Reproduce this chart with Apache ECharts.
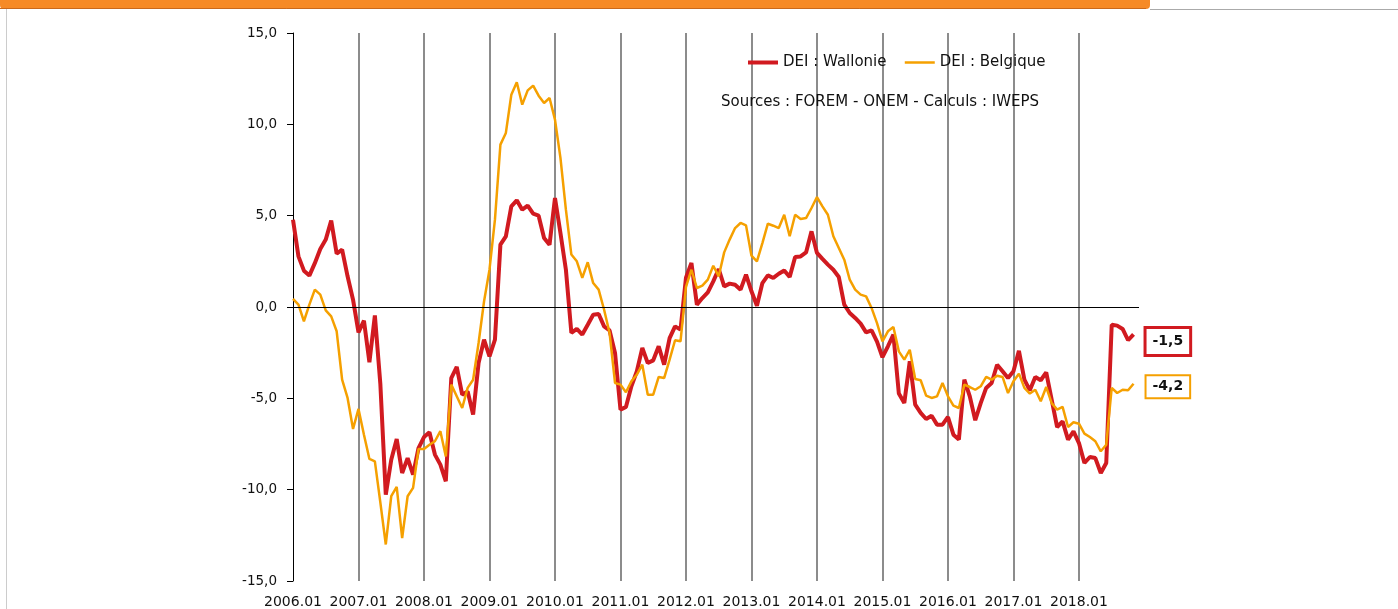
<!DOCTYPE html>
<html>
<head>
<meta charset="utf-8">
<script src="https://cdn.jsdelivr.net/npm/echarts@6/dist/echarts.min.js"></script>
<style>
html,body{margin:0;padding:0;background:#fff;}
#chart{width:1398px;height:609px;}
</style>
</head>
<body>
<div id="chart"></div>
<script>
// Tick label pieces (x axis shows "YYYY.01")
const years = ['2006','2007','2008','2009','2010','2011','2012','2013','2014','2015','2016','2017','2018'];
const months = ['01','02','03','04','05','06','07','08','09','10','11','12'];

// DEI : Wallonie (monthly, 2006.01 - 2018.11)
const wallonie = [
  4.78, 2.77, 1.99, 1.72, 2.4, 3.18, 3.69, 4.73, 2.92, 3.14, 1.68, 0.4,
  -1.39, -0.75, -3.03, -0.46, -4.2, -10.27, -8.36, -7.23, -9.09, -8.27, -9.18, -7.72,
  -7.12, -6.86, -8.08, -8.63, -9.54, -3.89, -3.28, -4.8, -4.62, -5.89, -3.07, -1.79,
  -2.7, -1.79, 3.41, 3.87, 5.51, 5.84, 5.33, 5.55, 5.11, 5.0, 3.78, 3.41,
  5.97, 4.05, 2.04, -1.42, -1.2, -1.51, -0.97, -0.42, -0.38, -1.06, -1.28, -2.52,
  -5.62, -5.47, -4.34, -3.52, -2.24, -3.07, -2.92, -2.15, -3.16, -1.7, -1.06, -1.24,
  1.6, 2.41, 0.13, 0.49, 0.8, 1.4, 2.08, 1.13, 1.28, 1.22, 0.95, 1.77,
  0.86, 0.07, 1.31, 1.73, 1.59, 1.82, 2.0, 1.64, 2.74, 2.77, 2.99, 4.14,
  2.96, 2.63, 2.32, 2.04, 1.64, 0.13, -0.33, -0.6, -0.91, -1.39, -1.28, -1.9,
  -2.75, -2.15, -1.51, -4.74, -5.26, -2.97, -5.35, -5.8, -6.13, -5.95, -6.44, -6.44,
  -6.02, -6.99, -7.26, -3.98, -4.89, -6.2, -5.26, -4.43, -4.16, -3.16, -3.52, -3.89,
  -3.52, -2.4, -3.98, -4.56, -3.83, -4.01, -3.58, -5.07, -6.57, -6.26, -7.26, -6.81,
  -7.45, -8.54, -8.21, -8.27, -9.09, -8.54, -0.97, -1.02, -1.2, -1.82, -1.5
];

// DEI : Belgique (monthly, 2006.01 - 2018.11)
const belgique = [
  0.44, 0.13, -0.78, 0.13, 0.95, 0.68, -0.18, -0.51, -1.33, -3.98, -4.98, -6.68,
  -5.58, -6.99, -8.32, -8.45, -10.7, -13.0, -10.36, -9.85, -12.65, -10.36, -9.9, -7.77,
  -7.77, -7.54, -7.35, -6.8, -8.18, -4.25, -4.89, -5.53, -4.43, -3.98, -1.97, 0.3,
  2.04, 4.78, 8.89, 9.53, 11.62, 12.3, 11.08, 11.86, 12.12, 11.57, 11.17, 11.44,
  10.26, 8.16, 5.33, 2.87, 2.5, 1.59, 2.45, 1.31, 0.95, -0.15, -1.42, -4.16,
  -4.25, -4.67, -4.07, -3.7, -3.16, -4.8, -4.8, -3.83, -3.89, -2.88, -1.82, -1.88,
  1.1, 2.04, 1.04, 1.17, 1.5, 2.26, 1.68, 2.99, 3.69, 4.32, 4.6, 4.47,
  2.81, 2.5, 3.5, 4.56, 4.45, 4.32, 5.05, 3.87, 5.05, 4.82, 4.87, 5.42,
  6.02, 5.51, 5.05, 3.87, 3.23, 2.59, 1.5, 0.95, 0.68, 0.58, -0.05, -0.88,
  -1.88, -1.33, -1.09, -2.43, -2.88, -2.34, -3.94, -4.01, -4.85, -4.98, -4.89, -4.16,
  -4.89, -5.4, -5.53, -4.25, -4.38, -4.53, -4.34, -3.83, -3.98, -3.76, -3.83, -4.71,
  -4.07, -3.65, -4.43, -4.74, -4.53, -5.16, -4.38, -5.26, -5.62, -5.47, -6.57, -6.31,
  -6.39, -6.93, -7.12, -7.35, -7.9, -7.54, -4.43, -4.71, -4.53, -4.56, -4.2
];

const seriesNames = ['DEI : Wallonie', 'DEI : Belgique'];
const sourceText = 'Sources : FOREM - ONEM - Calculs : IWEPS';

const categories = [];
years.forEach(y => months.forEach(m => categories.push(y + '.' + m)));

const FONT = 'DejaVu Sans';
const RED = '#D11A20';
const ORANGE = '#F5A000';
const fmt = v => v.toFixed(1).replace('.', ',');

const chart = echarts.init(document.getElementById('chart'), null, {renderer: 'canvas'});
chart.setOption({
  animation: false,
  textStyle: {fontFamily: FONT},
  grid: {left: 293, right: 259, top: 33, bottom: 28, containLabel: false},
  legend: {
    left: 741, top: 50,
    itemWidth: 30, itemHeight: 8, itemGap: 17,
    itemStyle: {opacity: 0},
    textStyle: {fontFamily: FONT, fontSize: 15, color: '#111'},
    data: [
      {name: seriesNames[0], lineStyle: {width: 4}},
      {name: seriesNames[1], lineStyle: {width: 2.5}}
    ]
  },
  xAxis: {
    type: 'category',
    data: categories,
    boundaryGap: false,
    axisLine: {show: false},
    axisTick: {show: false},
    axisLabel: {
      interval: (i) => i % 12 === 0,
      margin: 14, fontSize: 14, color: '#111', fontFamily: FONT
    },
    splitLine: {
      show: true,
      interval: (i) => i % 12 === 0 && i > 0,
      lineStyle: {color: '#666', width: 1.5}
    }
  },
  yAxis: {
    type: 'value', min: -15, max: 15, interval: 5,
    axisLine: {show: true, onZero: false, lineStyle: {color: '#000', width: 1}},
    axisTick: {show: true, inside: false, length: 6, lineStyle: {color: '#000'}},
    axisLabel: {formatter: fmt, margin: 16, fontSize: 13.5, color: '#111', fontFamily: FONT},
    splitLine: {show: false}
  },
  series: [
    {
      name: seriesNames[0], type: 'line', data: wallonie,
      symbol: 'none', smooth: false,
      lineStyle: {color: RED, width: 4},
      itemStyle: {color: RED},
      z: 3,
      markLine: {
        silent: true, symbol: ['none', 'none'], animation: false,
        label: {show: false},
        lineStyle: {color: '#000', width: 1, type: 'solid'},
        data: [{yAxis: 0}]
      },
      endLabel: {
        show: true, formatter: p => fmt(p.value),
        distance: 13, offset: [0, 7],
        backgroundColor: '#fff', borderColor: RED, borderWidth: 3,
        padding: [6, 6, 5, 6],
        fontSize: 14, fontWeight: 'bold', color: '#111', fontFamily: FONT
      }
    },
    {
      name: seriesNames[1], type: 'line', data: belgique,
      symbol: 'none', smooth: false,
      lineStyle: {color: ORANGE, width: 2.5},
      itemStyle: {color: ORANGE},
      z: 4,
      endLabel: {
        show: true, formatter: p => fmt(p.value),
        distance: 13, offset: [0, 3],
        backgroundColor: '#fff', borderColor: ORANGE, borderWidth: 2,
        padding: [4, 6, 3, 6],
        fontSize: 14, fontWeight: 'bold', color: '#111', fontFamily: FONT
      }
    }
  ],
  graphic: [
    {type: 'rect', shape: {x: 0, y: -12, width: 1150, height: 21, r: 4}, style: {fill: '#F68A26'}, z: 10},
    {type: 'line', shape: {x1: 0, y1: 8.5, x2: 1146, y2: 8.5}, style: {stroke: '#C9691C', lineWidth: 1}, z: 11},
    {type: 'line', shape: {x1: 1150, y1: 9.5, x2: 1398, y2: 9.5}, style: {stroke: '#AAAAAA', lineWidth: 1}, z: 10},
    {type: 'line', shape: {x1: 6.5, y1: 9, x2: 6.5, y2: 609}, style: {stroke: '#CCCCCC', lineWidth: 1}, z: 10},
    {type: 'text', left: 721, top: 95, style: {text: sourceText, fontFamily: FONT, fontSize: 15, fill: '#111'}, z: 10}
  ]
});
</script>
</body>
</html>
